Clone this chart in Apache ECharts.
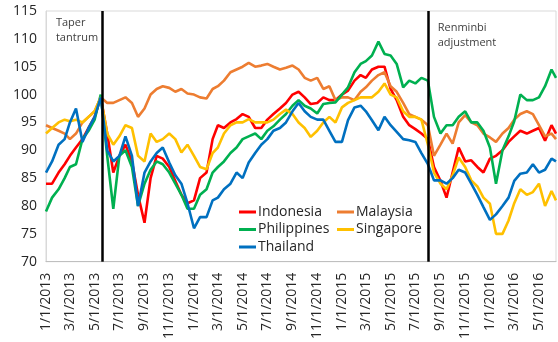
<!DOCTYPE html>
<html>
<head>
<meta charset="utf-8">
<script src="https://cdn.jsdelivr.net/npm/echarts@6/dist/echarts.min.js"></script>
<style>
  html, body { margin: 0; padding: 0; background: #ffffff; }
  #chart { width: 558px; height: 342px; }
</style>
</head>
<body>
<div id="chart"></div>
<script>
// Observation dates: the 1st and 16th of each month, Jan 2013 – Jun 2016
const sampleDates = [];
for (let y = 2013; y <= 2016; y++) {
  for (let m = 1; m <= 12; m++) {
    for (const d of [1, 16]) {
      if (y === 2016 && (m > 6 || (m === 6 && d === 16))) continue;
      sampleDates.push(y + '-' + m + '-' + d);
    }
  }
}
sampleDates.push('2016-6-12');

const indonesia = [
  84, 84, 86, 87.5, 89, 90.5, 92, 94, 96, 99.5, 93, 86, 89, 91, 88, 82, 77, 85, 89, 88.5, 87, 84.5, 82, 80.5,
  81, 85, 86, 92, 94.5, 94, 95, 95.6, 96.5, 96, 94, 94, 95.5, 96.5, 97.5, 98.5, 100, 100.5, 99.5, 98.3, 98.5, 99.5, 99, 99,
  100, 100.7, 102.5, 103.5, 103, 104.5, 105, 105, 101, 99, 96, 94.5, 93.8, 93, 92, 87, 84.5, 81.5, 86, 90.5, 88, 88.2, 87, 86,
  88.5, 89, 90, 91.5, 92.5, 93.5, 93, 93.5, 94, 91.7, 94.5, 93
];
const malaysia = [
  94.5, 94, 93.5, 93, 92, 93, 95, 96, 97, 99.5, 98.5, 98.5, 99, 99.5, 98.5, 96, 97.5, 100, 101, 101.5, 101.2, 100.5, 101, 100.2,
  100, 99.5, 99.3, 101, 101.5, 102.5, 104, 104.5, 105, 105.7, 105, 105.2, 105.5, 105, 104.5, 104.8, 105.2, 104.5, 103, 102.5, 103, 101, 101.5, 99,
  99.5, 99.5, 99, 100.5, 101.3, 102.5, 103.5, 104, 101.5, 100.5, 98.5, 96.5, 96, 95.5, 94.5, 89, 91, 93, 91.2, 95, 96.3, 95, 94.5, 93,
  92.3, 91.5, 93, 94, 95.5, 96.5, 97, 96.5, 94.5, 92.5, 93, 92
];
const philippines = [
  79, 81.5, 83, 85, 87, 87.5, 92, 93.5, 95.5, 100, 89, 79.5, 89, 90, 87, 80, 84, 86.5, 88, 87.5, 86, 84, 82, 79.5,
  79.5, 82, 83, 86, 87, 88, 89.5, 90.5, 92, 92.5, 93, 92, 93.5, 94.3, 95.5, 96.5, 98, 99, 98, 97.5, 96.6, 98.3, 98.5, 98.6,
  100, 101.3, 104, 105.5, 106, 107, 109.5, 107.3, 107, 105.5, 101.3, 102.5, 102, 103, 102.5, 96, 93, 94.5, 94.5, 96, 97, 95, 95, 93.5,
  90.5, 84, 90, 92.5, 95.2, 100, 99, 99, 99.5, 101.5, 104.5, 103
];
const singapore = [
  93, 94, 95, 95.5, 95.2, 95.5, 95, 96, 97, 99.5, 93, 91, 92.5, 94.5, 94, 89, 88, 93, 91.5, 92, 93, 92, 89.6, 91,
  89, 87, 86.6, 89.5, 90.5, 93, 94.5, 95, 95, 95.6, 95, 95, 95, 95.5, 96.5, 97.3, 96.5, 95, 94, 92.4, 93.5, 95, 96, 95,
  97.7, 98.5, 99, 99.5, 99.5, 99.5, 100.5, 102, 100, 99.5, 97, 96, 96, 95.5, 91, 86, 84, 83, 85.5, 88.7, 87, 84.6, 83.5, 81.5,
  80.4, 75, 75, 77.4, 80.5, 83, 82, 82.5, 84, 80, 82.7, 81
];
const thailand = [
  86, 88, 91, 92, 95, 97.5, 91.5, 94, 96, 99.5, 90, 88, 89, 92.5, 89, 80, 86, 88, 89.5, 90.5, 87.8, 85.5, 84, 80.5,
  76, 78, 78, 81, 81.5, 83, 84, 86, 85, 87.8, 89.5, 91, 92, 93.5, 94, 95, 97, 98.5, 97, 96, 95.5, 95.5, 93.5, 91.5,
  91.5, 95.4, 97.7, 98, 97, 95.4, 93.6, 96, 94.5, 93.3, 92, 91.8, 91.5, 89.5, 87.5, 84.6, 84.6, 84, 85, 86.5, 86, 84, 82, 79.8,
  77.5, 78.5, 80, 81.5, 84.5, 85.8, 86, 87.5, 86, 86.5, 88.5, 88
];

const tickLabels = [
  '1/1/2013', '3/1/2013', '5/1/2013', '7/1/2013', '9/1/2013', '11/1/2013',
  '1/1/2014', '3/1/2014', '5/1/2014', '7/1/2014', '9/1/2014', '11/1/2014',
  '1/1/2015', '3/1/2015', '5/1/2015', '7/1/2015', '9/1/2015', '11/1/2015',
  '1/1/2016', '3/1/2016', '5/1/2016'
];

const events = [
  { date: '2013-5-19', text: 'Taper\ntantrum', side: 'left' },
  { date: '2015-8-3', text: 'Renminbi\nadjustment', side: 'right' }
];

const axisStart = '2013-1-1';
const axisEnd = '2016-6-12';

// Dates are placed on a value axis as whole days counted from axisStart
const DAY = 86400000;
function utc(y, m, d) { return Date.UTC(y, m - 1, d); }
const originUtc = (function () { const p = axisStart.split('-').map(Number); return utc(p[0], p[1], p[2]); })();
function ymdToDay(s) {
  const p = s.split('-').map(Number);
  return Math.round((utc(p[0], p[1], p[2]) - originUtc) / DAY);
}
function mdyToDay(s) {
  const p = s.split('/').map(Number);
  return Math.round((utc(p[2], p[0], p[1]) - originUtc) / DAY);
}
function dayToLabel(n) {
  const d = new Date(originUtc + Math.round(n) * DAY);
  return (d.getUTCMonth() + 1) + '/' + d.getUTCDate() + '/' + d.getUTCFullYear();
}

const days = sampleDates.map(ymdToDay);
const tickDays = tickLabels.map(mdyToDay);

const FONT = 'Open Sans';
const seriesDefs = [
  { name: 'Indonesia', color: '#FF0000', values: indonesia },
  { name: 'Malaysia', color: '#ED7D31', values: malaysia },
  { name: 'Philippines', color: '#00B050', values: philippines },
  { name: 'Singapore', color: '#FFC000', values: singapore },
  { name: 'Thailand', color: '#0070C0', values: thailand }
];

const series = seriesDefs.map(s => ({
  name: s.name,
  type: 'line',
  showSymbol: false,
  symbol: 'none',
  color: s.color,
  lineStyle: { width: 2.6, color: s.color },
  data: days.map((t, i) => [t, s.values[i]])
}));

// Event markers as vertical black lines
series.push({
  name: 'events',
  type: 'line',
  data: [],
  markLine: {
    silent: true,
    symbol: 'none',
    label: { show: false },
    lineStyle: { color: '#000000', width: 2.5, type: 'solid' },
    data: events.map(e => ({ xAxis: ymdToDay(e.date) }))
  }
});

const legendText = { fontFamily: FONT, fontSize: 14, color: '#262626' };
const chart = echarts.init(document.getElementById('chart'), null, { renderer: 'canvas' });
chart.setOption({
  animation: false,
  backgroundColor: '#ffffff',
  grid: { left: 46, right: 2, top: 11, bottom: 79, show: true, borderColor: '#d9d9d9', borderWidth: 1 },
  legend: [
    {
      data: ['Indonesia', 'Philippines', 'Thailand'],
      orient: 'vertical', left: 234, top: 200,
      icon: 'rect', itemWidth: 17, itemHeight: 3, itemGap: 3.5,
      textStyle: Object.assign({ padding: [0, 0, 0, -3] }, legendText)
    },
    {
      data: ['Malaysia', 'Singapore'],
      orient: 'vertical', left: 332, top: 200,
      icon: 'rect', itemWidth: 17, itemHeight: 3, itemGap: 3.5,
      textStyle: Object.assign({ padding: [0, 0, 0, -3] }, legendText)
    }
  ],
  xAxis: {
    type: 'value',
    min: ymdToDay(axisStart),
    max: ymdToDay(axisEnd),
    axisLine: { show: true, onZero: false, lineStyle: { color: '#bfbfbf', width: 1 } },
    axisTick: { show: false },
    splitLine: { show: false },
    axisLabel: {
      customValues: tickDays,
      rotate: 90,
      margin: 11,
      formatter: v => dayToLabel(v),
      fontFamily: FONT,
      fontSize: 14,
      color: '#262626',
      hideOverlap: false
    }
  },
  yAxis: {
    type: 'value',
    min: 70,
    max: 115,
    interval: 5,
    axisLine: { show: true, lineStyle: { color: '#d9d9d9' } },
    axisTick: { show: false },
    splitLine: { show: false },
    axisLabel: { fontFamily: FONT, fontSize: 14, color: '#262626', margin: 9 }
  },
  series: series
});

// Event annotations placed next to their lines
const graphics = events.map(e => {
  const p = chart.convertToPixel({ xAxisIndex: 0, yAxisIndex: 0 }, [ymdToDay(e.date), 115]);
  return {
    type: 'text',
    x: e.side === 'left' ? p[0] - 46 : p[0] + 9,
    y: p[1] + (e.side === 'left' ? 4 : 9),
    style: {
      text: e.text,
      fontFamily: FONT,
      fontSize: 11,
      lineHeight: 15,
      fill: '#404040'
    }
  };
});
chart.setOption({ graphic: graphics });
</script>
</body>
</html>
